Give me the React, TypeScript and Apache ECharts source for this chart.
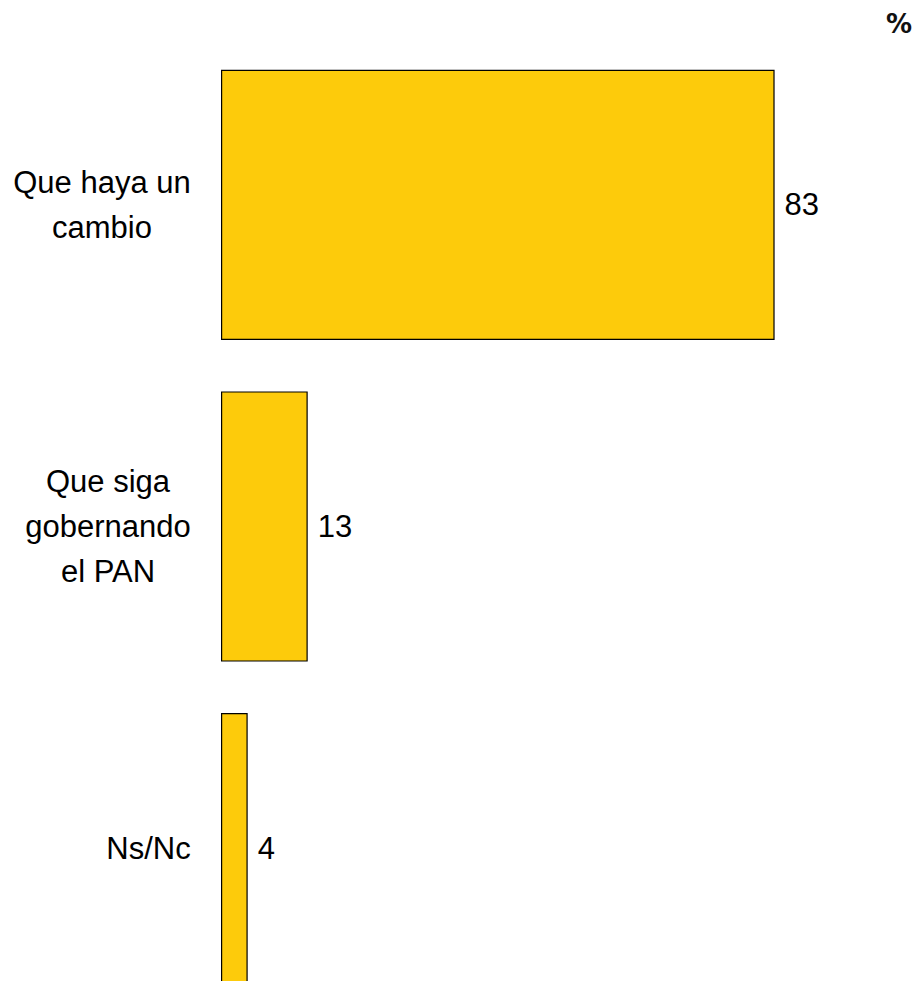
import React, { useEffect, useRef } from "react";
import * as echarts from "echarts";

const categories = ["Que haya un\ncambio", "Que siga\ngobernando\nel PAN", "Ns/Nc"];
const values = [83, 13, 4];
const unitLabel = "%";

const FONT = '"Liberation Sans", Arial, sans-serif';
const FONT_SIZE = 31;

function measureLongest(text: string): number {
  const c = document.createElement("canvas");
  const ctx = c.getContext("2d");
  if (!ctx) return 150;
  ctx.font = `${FONT_SIZE}px ${FONT}`;
  return Math.max(...text.split("\n").map((l) => ctx.measureText(l).width));
}

export default function App() {
  const ref = useRef<HTMLDivElement>(null);
  useEffect(() => {
    if (!ref.current) return;
    const chart = echarts.init(ref.current, undefined, { renderer: "svg" });
    const rich: Record<string, any> = {};
    categories.forEach((c, i) => {
      rich["c" + i] = {
        width: Math.ceil(measureLongest(c)),
        align: "center",
        fontFamily: FONT,
        fontSize: FONT_SIZE,
        lineHeight: 45,
        color: "#000",
      };
    });
    chart.setOption({
      animation: false,
      backgroundColor: "#fff",
      grid: {
        left: 221,
        top: 44,
        width: 667,
        height: 965,
        containLabel: false,
        outerBoundsMode: "none",
      },
      xAxis: {
        type: "value",
        min: 0,
        max: 100,
        show: false,
      },
      yAxis: {
        type: "category",
        inverse: true,
        data: categories,
        axisLine: { show: false },
        axisTick: { show: false },
        splitLine: { show: false },
        axisLabel: {
          margin: 30,
          align: "right",
          formatter: (v: string) => {
            const i = categories.indexOf(v);
            return v
              .split("\n")
              .map((l) => `{c${i}|${l}}`)
              .join("\n");
          },
          rich,
        },
      },
      series: [
        {
          type: "bar",
          data: values,
          barCategoryGap: "16%",
          itemStyle: { color: "#FDCB0B", borderColor: "#000", borderWidth: 1.2 },
          label: {
            show: true,
            position: "right",
            distance: 10,
            color: "#000",
            fontFamily: FONT,
            fontSize: FONT_SIZE,
          },
        },
      ],
      graphic: [
        {
          type: "text",
          left: 886,
          top: 11,
          style: {
            text: unitLabel,
            fontFamily: '"DejaVu Sans", Verdana, sans-serif',
            fontSize: 26,
            fontWeight: "bold",
            fill: "#111",
          },
        },
      ],
    });
    return () => chart.dispose();
  }, []);
  return (
    <div
      ref={ref}
      style={{ position: "absolute", left: 0, top: 0, width: 918, height: 981 }}
    />
  );
}
